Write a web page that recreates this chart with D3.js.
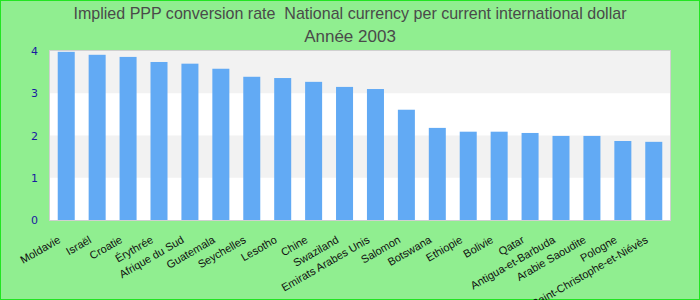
<!DOCTYPE html>
<html>
<head>
<meta charset="utf-8">
<script src="https://cdn.jsdelivr.net/npm/d3@7"></script>
<style>
  body { margin: 0; }
</style>
</head>
<body>
<div id="chart"></div>
<script>
let countries = ['Moldavie', 'Israël', 'Croatie', 'Érythrée', 'Afrique du Sud', 'Guatemala',
  'Seychelles', 'Lesotho', 'Chine', 'Swaziland', 'Emirats Arabes Unis', 'Salomon', 'Botswana',
  'Ethiopie', 'Bolivie', 'Qatar', 'Antigua-et-Barbuda', 'Arabie Saoudite', 'Pologne',
  'Saint-Christophe-et-Niévès'];
let rates = [3.98, 3.91, 3.86, 3.74, 3.70, 3.58, 3.39, 3.36, 3.27, 3.15, 3.10, 2.61, 2.18,
  2.09, 2.09, 2.06, 1.99, 1.99, 1.87, 1.85];
let yTicks = [0, 1, 2, 3, 4];
let titleLines = ['Implied PPP conversion rate  National currency per current international dollar', 'Année 2003'];

let buildChart = () =>
{
	let width = 700;
	let height = 300;
	let margin = { top: 51, right: 30, bottom: 80, left: 50 };
	let plotW = width - margin.left - margin.right;
	let plotH = height - margin.top - margin.bottom;

	let svg = d3.select('#chart')
	  .append('svg')
	  .attr('width', width)
	  .attr('height', height)
	  .style('display', 'block');

	svg.append('rect')
	   .attr('x', 0.5).attr('y', 0.5)
	   .attr('width', width - 1).attr('height', height - 1)
	   .style('fill', '#90ee90')
	   .style('stroke', '#22e522');

	svg.selectAll('text.title')
	   .data(titleLines)
	   .enter()
	   .append('text')
	   .attr('class', 'title')
	   .attr('x', width / 2)
	   .attr('y', (d, i) => 18.5 + i * 23.2)
	   .attr('text-anchor', 'middle')
	   .attr('textLength', (d, i) => i === 0 ? 553 : null)
	   .attr('lengthAdjust', 'spacingAndGlyphs')
	   .style('white-space', 'pre')
	   .style('font-family', '"Liberation Sans", Arial, sans-serif')
	   .style('font-size', '17px')
	   .style('fill', '#4a4a4a')
	   .text(d => d);

	let x = d3.scaleBand()
	  .domain(countries)
	  .range([0, plotW])
	  .paddingInner(0.45)
	  .paddingOuter(0.25);

	let y = d3.scaleLinear()
	  .domain([0, 4])
	  .range([plotH, 0]);

	let g = svg.append('g')
	  .attr('transform', 'translate(' + margin.left + ',' + margin.top + ')');

	g.append('rect')
	 .attr('x', 0).attr('y', 0)
	 .attr('width', plotW).attr('height', plotH)
	 .style('fill', '#ffffff');

	// alternating bands
	g.selectAll('rect.band')
	 .data(d3.range(yTicks.length - 1).filter(i => i % 2 === 1))
	 .enter()
	 .append('rect')
	 .attr('class', 'band')
	 .attr('x', 0)
	 .attr('y', i => y(yTicks[i + 1]))
	 .attr('width', plotW)
	 .attr('height', i => y(yTicks[i]) - y(yTicks[i + 1]))
	 .style('fill', '#f2f2f2');

	g.selectAll('rect.bar')
	 .data(rates)
	 .enter()
	 .append('rect')
	 .attr('class', 'bar')
	 .attr('x', (d, i) => x(countries[i]))
	 .attr('y', d => y(d))
	 .attr('width', x.bandwidth())
	 .attr('height', d => plotH - y(d))
	 .style('fill', '#62aaf4');

	g.append('rect')
	 .attr('x', -0.5).attr('y', -0.5)
	 .attr('width', plotW + 1).attr('height', plotH + 1)
	 .style('fill', 'none')
	 .style('stroke', '#d0d0d0');

	let yAxis = g.append('g')
	  .call(d3.axisLeft(y).tickValues(yTicks).tickSize(0).tickPadding(12).tickFormat(d3.format('d')));
	yAxis.select('.domain').remove();
	yAxis.selectAll('text')
	     .style('font-family', '"DejaVu Sans", Verdana, sans-serif')
	     .style('font-size', '11px')
	     .style('fill', '#1a1aa0');

	let xAxis = g.append('g')
	  .attr('transform', 'translate(0,' + plotH + ')')
	  .call(d3.axisBottom(x).tickSize(0).tickPadding(0));
	xAxis.select('.domain').remove();
	xAxis.selectAll('text')
	     .attr('text-anchor', 'end')
	     .attr('dy', null)
	     .attr('y', 0)
	     .attr('transform', 'translate(-5,22) rotate(-30)')
	     .style('font-family', '"Liberation Sans", Arial, sans-serif')
	     .style('font-size', '11px')
	     .style('fill', '#111');
}

buildChart();
</script>
</body>
</html>
